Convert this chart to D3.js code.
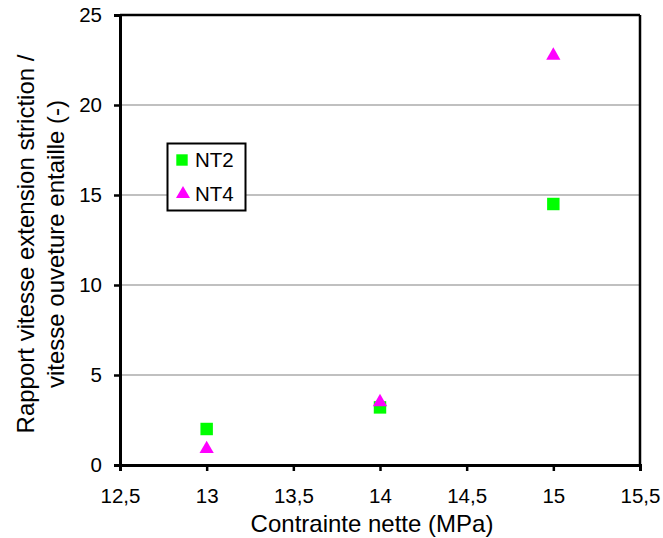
<!DOCTYPE html>
<html><head><meta charset="utf-8">
<script src="https://cdn.jsdelivr.net/npm/d3@7"></script>
<style>body{margin:0;background:#fff}svg{display:block}text{font-family:"Liberation Sans",Arial,sans-serif;fill:#000}</style>
</head><body>
<script>
const xTicks = [12.5, 13, 13.5, 14, 14.5, 15, 15.5];
const yTicks = [0, 5, 10, 15, 20, 25];
const xNT2 = [13, 14, 15];
const yNT2 = [2.0, 3.2, 14.5];
const xNT4 = [13, 14, 15];
const yNT4 = [0.95, 3.55, 22.8];
const seriesNames = ["NT2", "NT4"];
const seriesColors = ["#00ff00", "#ff00ff"];

const W = 663, H = 538;
const svg = d3.select("body").append("svg").attr("width", W).attr("height", H);
const x = d3.scaleLinear().domain([12.5, 15.5]).range([120, 640]);
const y = d3.scaleLinear().domain([0, 25]).range([465, 15]);

// gridlines
svg.append("g").selectAll("line").data(yTicks.filter(d => d > 0 && d < 25)).join("line")
  .attr("x1", x(12.5)).attr("x2", x(15.5)).attr("y1", d => y(d)).attr("y2", d => y(d))
  .attr("stroke", "#c0c0c0").attr("stroke-width", 2);

// frame top/right
svg.append("line").attr("x1", x(12.5)).attr("x2", x(15.5)).attr("y1", y(25)).attr("y2", y(25)).attr("stroke", "#000").attr("stroke-width", 2.5);
svg.append("line").attr("x1", x(15.5)).attr("x2", x(15.5)).attr("y1", y(25)).attr("y2", y(0)).attr("stroke", "#000").attr("stroke-width", 2.5);

const fmt = d => String(d).replace(".", ",");
const xa = svg.append("g").attr("transform", `translate(0,${y(0)})`)
  .call(d3.axisBottom(x).tickValues(xTicks).tickFormat(fmt).tickSize(6).tickPadding(17));
const ya = svg.append("g").attr("transform", `translate(${x(12.5)},0)`)
  .call(d3.axisLeft(y).tickValues(yTicks).tickFormat(fmt).tickSize(6).tickPadding(12));
[xa, ya].forEach(a => {
  a.select(".domain").attr("stroke", "#000").attr("stroke-width", 3);
  a.selectAll(".tick line").attr("stroke", "#000").attr("stroke-width", 2.5);
  a.selectAll(".tick text").style("font-size", "20.5px").attr("font-family", "Liberation Sans, Arial, sans-serif");
});

// markers
const sq = d3.symbol().type(d3.symbolSquare).size(155);
const tri = d3.symbol().type(d3.symbolTriangle).size(88);
svg.append("g").selectAll("path").data(xNT2.map((v, i) => [v, yNT2[i]])).join("path")
  .attr("d", sq).attr("transform", d => `translate(${x(d[0])},${y(d[1])})`).attr("fill", seriesColors[0]);
svg.append("g").selectAll("path").data(xNT4.map((v, i) => [v, yNT4[i]])).join("path")
  .attr("d", tri).attr("transform", d => `translate(${x(d[0])},${y(d[1]) + 1})`).attr("fill", seriesColors[1]);

// legend
const lg = svg.append("g");
lg.append("rect").attr("x", 167.5).attr("y", 143.5).attr("width", 78).attr("height", 67)
  .attr("fill", "#fff").attr("stroke", "#000").attr("stroke-width", 2);
lg.append("path").attr("d", d3.symbol().type(d3.symbolSquare).size(130)).attr("transform", "translate(182,160)").attr("fill", seriesColors[0]);
lg.append("path").attr("d", d3.symbol().type(d3.symbolTriangle).size(85)).attr("transform", "translate(183,194)").attr("fill", seriesColors[1]);
lg.append("text").attr("x", 195).attr("y", 167).style("font-size", "20.5px").text(seriesNames[0]);
lg.append("text").attr("x", 195).attr("y", 201).style("font-size", "20.5px").text(seriesNames[1]);

// titles
svg.append("text").attr("x", 372).attr("y", 532).attr("text-anchor", "middle")
  .style("font-size", "24px").text("Contrainte nette (MPa)");
const yt = svg.append("text").attr("transform", `translate(34,244) rotate(-90)`)
  .attr("text-anchor", "middle").style("font-size", "24px");
yt.append("tspan").attr("x", 0).attr("dy", 0).text("Rapport vitesse extension striction /");
yt.append("tspan").attr("x", 0).attr("dy", 30).text("vitesse ouveture entaille (-)");
</script>
</body></html>
